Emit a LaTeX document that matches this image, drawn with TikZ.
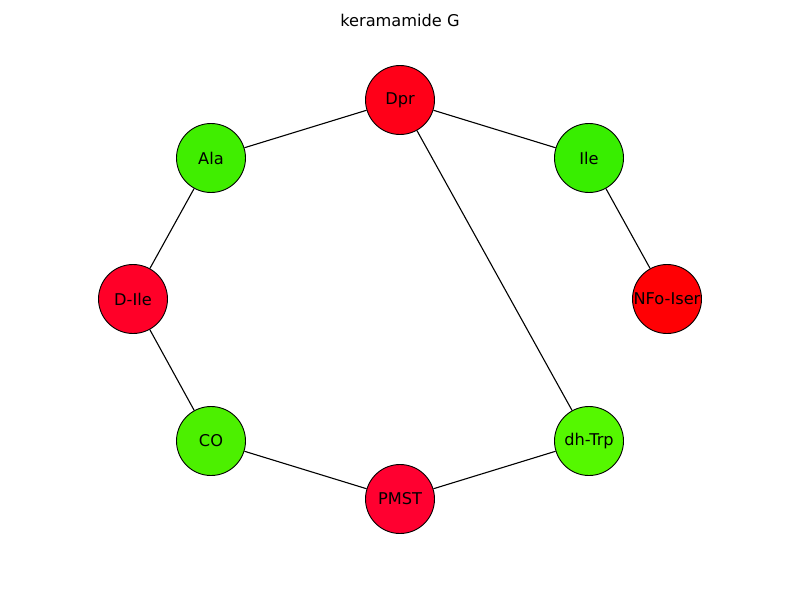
\documentclass[tikz,border=0pt]{standalone}
\usepackage{fontspec}
\setmainfont{DejaVu Sans}
\begin{document}
\begin{tikzpicture}[x=1pt,y=-1pt,
  nd/.style={circle,draw=black,line width=0.9pt,minimum size=69pt,inner sep=0pt,font=\fontsize{16.2}{18}\selectfont},
  ed/.style={draw=black,line width=1.1pt}]
\useasboundingbox (0,0) rectangle (800,600);
\definecolor{cDpr}{HTML}{FF0018}
\definecolor{cAla}{HTML}{40EE00}
\definecolor{cIle}{HTML}{38EE00}
\definecolor{cDIle}{HTML}{FF0028}
\definecolor{cNFo}{HTML}{FF0004}
\definecolor{cCO}{HTML}{4CF000}
\definecolor{cdh}{HTML}{55F800}
\definecolor{cPMST}{HTML}{FF0030}
\node[font=\fontsize{16.2}{18}\selectfont] (title) at (400,20) {keramamide G};
\node[nd,fill=cDpr] (dpr) at (400,100) {Dpr};
\node[nd,fill=cAla] (ala) at (211,158) {Ala};
\node[nd,fill=cIle] (ile) at (589,158) {Ile};
\node[nd,fill=cDIle] (dile) at (133,299) {D-Ile};
\node[nd,fill=cNFo] (nfo) at (667,299) {NFo-Iser};
\node[nd,fill=cCO] (co) at (211,441) {CO};
\node[nd,fill=cdh] (dh) at (589,441) {dh-Trp};
\node[nd,fill=cPMST] (pmst) at (400,499) {PMST};
\begin{scope}[on background layer/.style={}]
\end{scope}
\draw[ed] (dpr) -- (ala);
\draw[ed] (dpr) -- (ile);
\draw[ed] (dpr) -- (dh);
\draw[ed] (ile) -- (nfo);
\draw[ed] (ala) -- (dile);
\draw[ed] (dile) -- (co);
\draw[ed] (co) -- (pmst);
\draw[ed] (pmst) -- (dh);
\end{tikzpicture}
\end{document}
